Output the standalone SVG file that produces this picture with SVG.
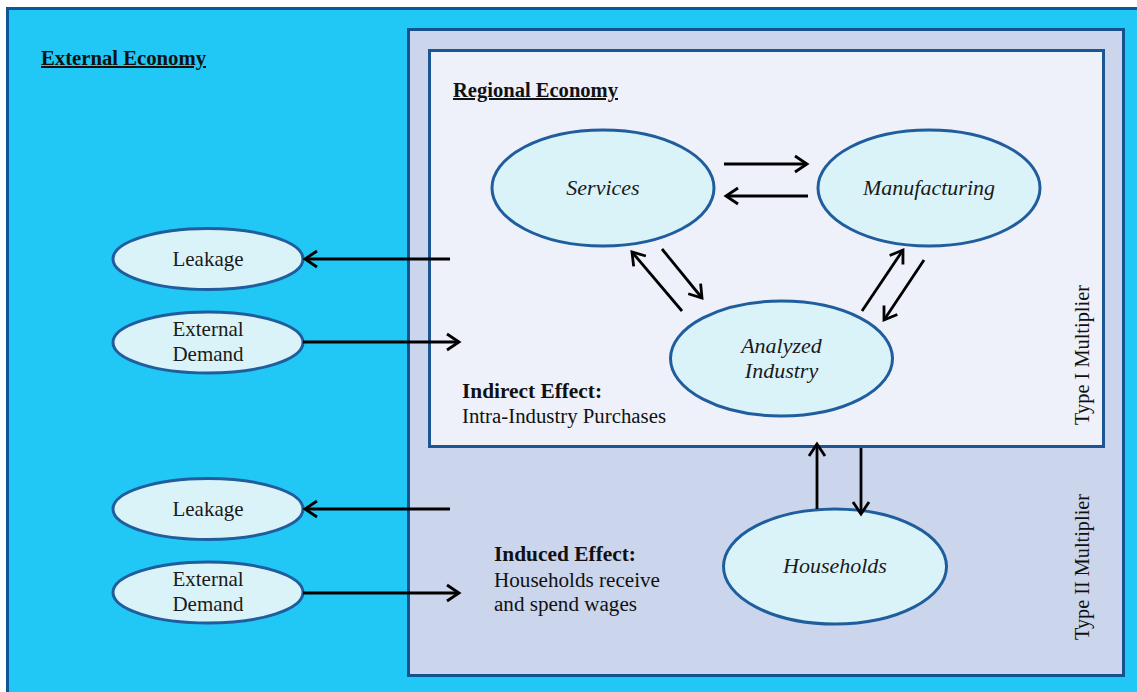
<svg xmlns="http://www.w3.org/2000/svg" width="1137" height="692" viewBox="0 0 1137 692">
<defs>
<style>
.box{stroke-width:3}
.ell{fill:#daf3f9;stroke:#1f5d9c;stroke-width:3}
.lbl{font-family:"Liberation Serif",serif;font-size:21px;fill:#1a1a1a;text-anchor:middle}
.ital{font-family:"Liberation Serif",serif;font-size:22px;font-style:italic;fill:#1a1a1a;text-anchor:middle}
.hd{font-family:"Liberation Serif",serif;font-size:20px;font-weight:bold;fill:#111;text-decoration:underline}
.bd{font-family:"Liberation Serif",serif;font-size:20px;font-weight:bold;fill:#111}
.tx{font-family:"Liberation Serif",serif;font-size:20px;fill:#111}
.mult{font-family:"Liberation Serif",serif;font-size:21px;fill:#111;text-anchor:middle}
.arr{stroke:#000;stroke-width:2.8;fill:none;marker-end:url(#head)}
</style>
<marker id="head" markerUnits="userSpaceOnUse" markerWidth="22" markerHeight="22" viewBox="-15 -11 17 22" refX="0" refY="0" orient="auto">
<path d="M -12 -8 L 0 0 L -12 8" fill="none" stroke="#000" stroke-width="2.8" stroke-linejoin="miter"/>
</marker>
</defs>
<rect x="0" y="0" width="1137" height="692" fill="#ffffff"/>
<g id="external-economy">
<rect class="box" x="7.5" y="8.5" width="1140" height="700" fill="#21c8f6" stroke="#0f5699"/>
<text class="hd" x="41" y="65" textLength="165" lengthAdjust="spacingAndGlyphs">External Economy</text>
</g>
<g id="type2-region">
<rect class="box" x="408.5" y="29.5" width="715" height="646" fill="#cbd5ec" stroke="#14528f"/>
<text class="mult" transform="translate(1089,567) rotate(-90)" textLength="146" lengthAdjust="spacingAndGlyphs">Type II Multiplier</text>
<text class="bd" x="494" y="561" textLength="142" lengthAdjust="spacingAndGlyphs">Induced  Effect:</text>
<text class="tx" x="494" y="587" textLength="166" lengthAdjust="spacingAndGlyphs">Households receive</text>
<text class="tx" x="494" y="611" textLength="143" lengthAdjust="spacingAndGlyphs">and spend wages</text>
</g>
<g id="regional-economy">
<rect class="box" x="429.5" y="50.5" width="674" height="396" fill="#eef0fa" stroke="#1b5592"/>
<text class="hd" x="453" y="97" textLength="165" lengthAdjust="spacingAndGlyphs">Regional Economy</text>
<text class="mult" transform="translate(1089,355) rotate(-90)" textLength="140" lengthAdjust="spacingAndGlyphs">Type I Multiplier</text>
<text class="bd" x="462" y="398" textLength="140" lengthAdjust="spacingAndGlyphs">Indirect  Effect:</text>
<text class="tx" x="462" y="423" textLength="204" lengthAdjust="spacingAndGlyphs">Intra-Industry  Purchases</text>
</g>
<g id="services">
<ellipse class="ell" cx="603" cy="188" rx="111" ry="58"/>
<text class="ital" x="603" y="195">Services</text>
</g>
<g id="manufacturing">
<ellipse class="ell" cx="929" cy="188" rx="111" ry="58"/>
<text class="ital" x="929" y="195">Manufacturing</text>
</g>
<g id="analyzed-industry">
<ellipse class="ell" cx="781.5" cy="358.5" rx="111" ry="57.5"/>
<text class="ital" x="781.5" y="353">Analyzed</text>
<text class="ital" x="781.5" y="378">Industry</text>
</g>
<g id="households">
<ellipse class="ell" cx="835" cy="566.5" rx="111.5" ry="57.5"/>
<text class="ital" x="835" y="573">Households</text>
</g>
<g id="leakage-1">
<ellipse class="ell" cx="208" cy="259" rx="95" ry="30.5"/>
<text class="lbl" x="208" y="266">Leakage</text>
</g>
<g id="external-demand-1">
<ellipse class="ell" cx="208" cy="342.5" rx="95" ry="30.5"/>
<text class="lbl" x="208" y="336">External</text>
<text class="lbl" x="208" y="361">Demand</text>
</g>
<g id="leakage-2">
<ellipse class="ell" cx="208" cy="509" rx="95" ry="30.5"/>
<text class="lbl" x="208" y="516">Leakage</text>
</g>
<g id="external-demand-2">
<ellipse class="ell" cx="208" cy="592.5" rx="95" ry="30.5"/>
<text class="lbl" x="208" y="586">External</text>
<text class="lbl" x="208" y="611">Demand</text>
</g>
<g id="connectors">
<line class="arr" x1="450" y1="259" x2="305" y2="259"/>
<line class="arr" x1="303" y1="342" x2="459" y2="342"/>
<line class="arr" x1="450" y1="509" x2="305" y2="509"/>
<line class="arr" x1="303" y1="593" x2="459" y2="593"/>
<line class="arr" x1="724" y1="164" x2="807" y2="164"/>
<line class="arr" x1="808" y1="196" x2="726" y2="196"/>
<line class="arr" x1="682" y1="311" x2="632" y2="252"/>
<line class="arr" x1="662" y1="249" x2="702" y2="298"/>
<line class="arr" x1="862" y1="311" x2="903" y2="250"/>
<line class="arr" x1="924" y1="260" x2="884" y2="320"/>
<line class="arr" x1="817" y1="509" x2="817" y2="444"/>
<line class="arr" x1="861" y1="448" x2="861" y2="514"/>
</g>
</svg>
